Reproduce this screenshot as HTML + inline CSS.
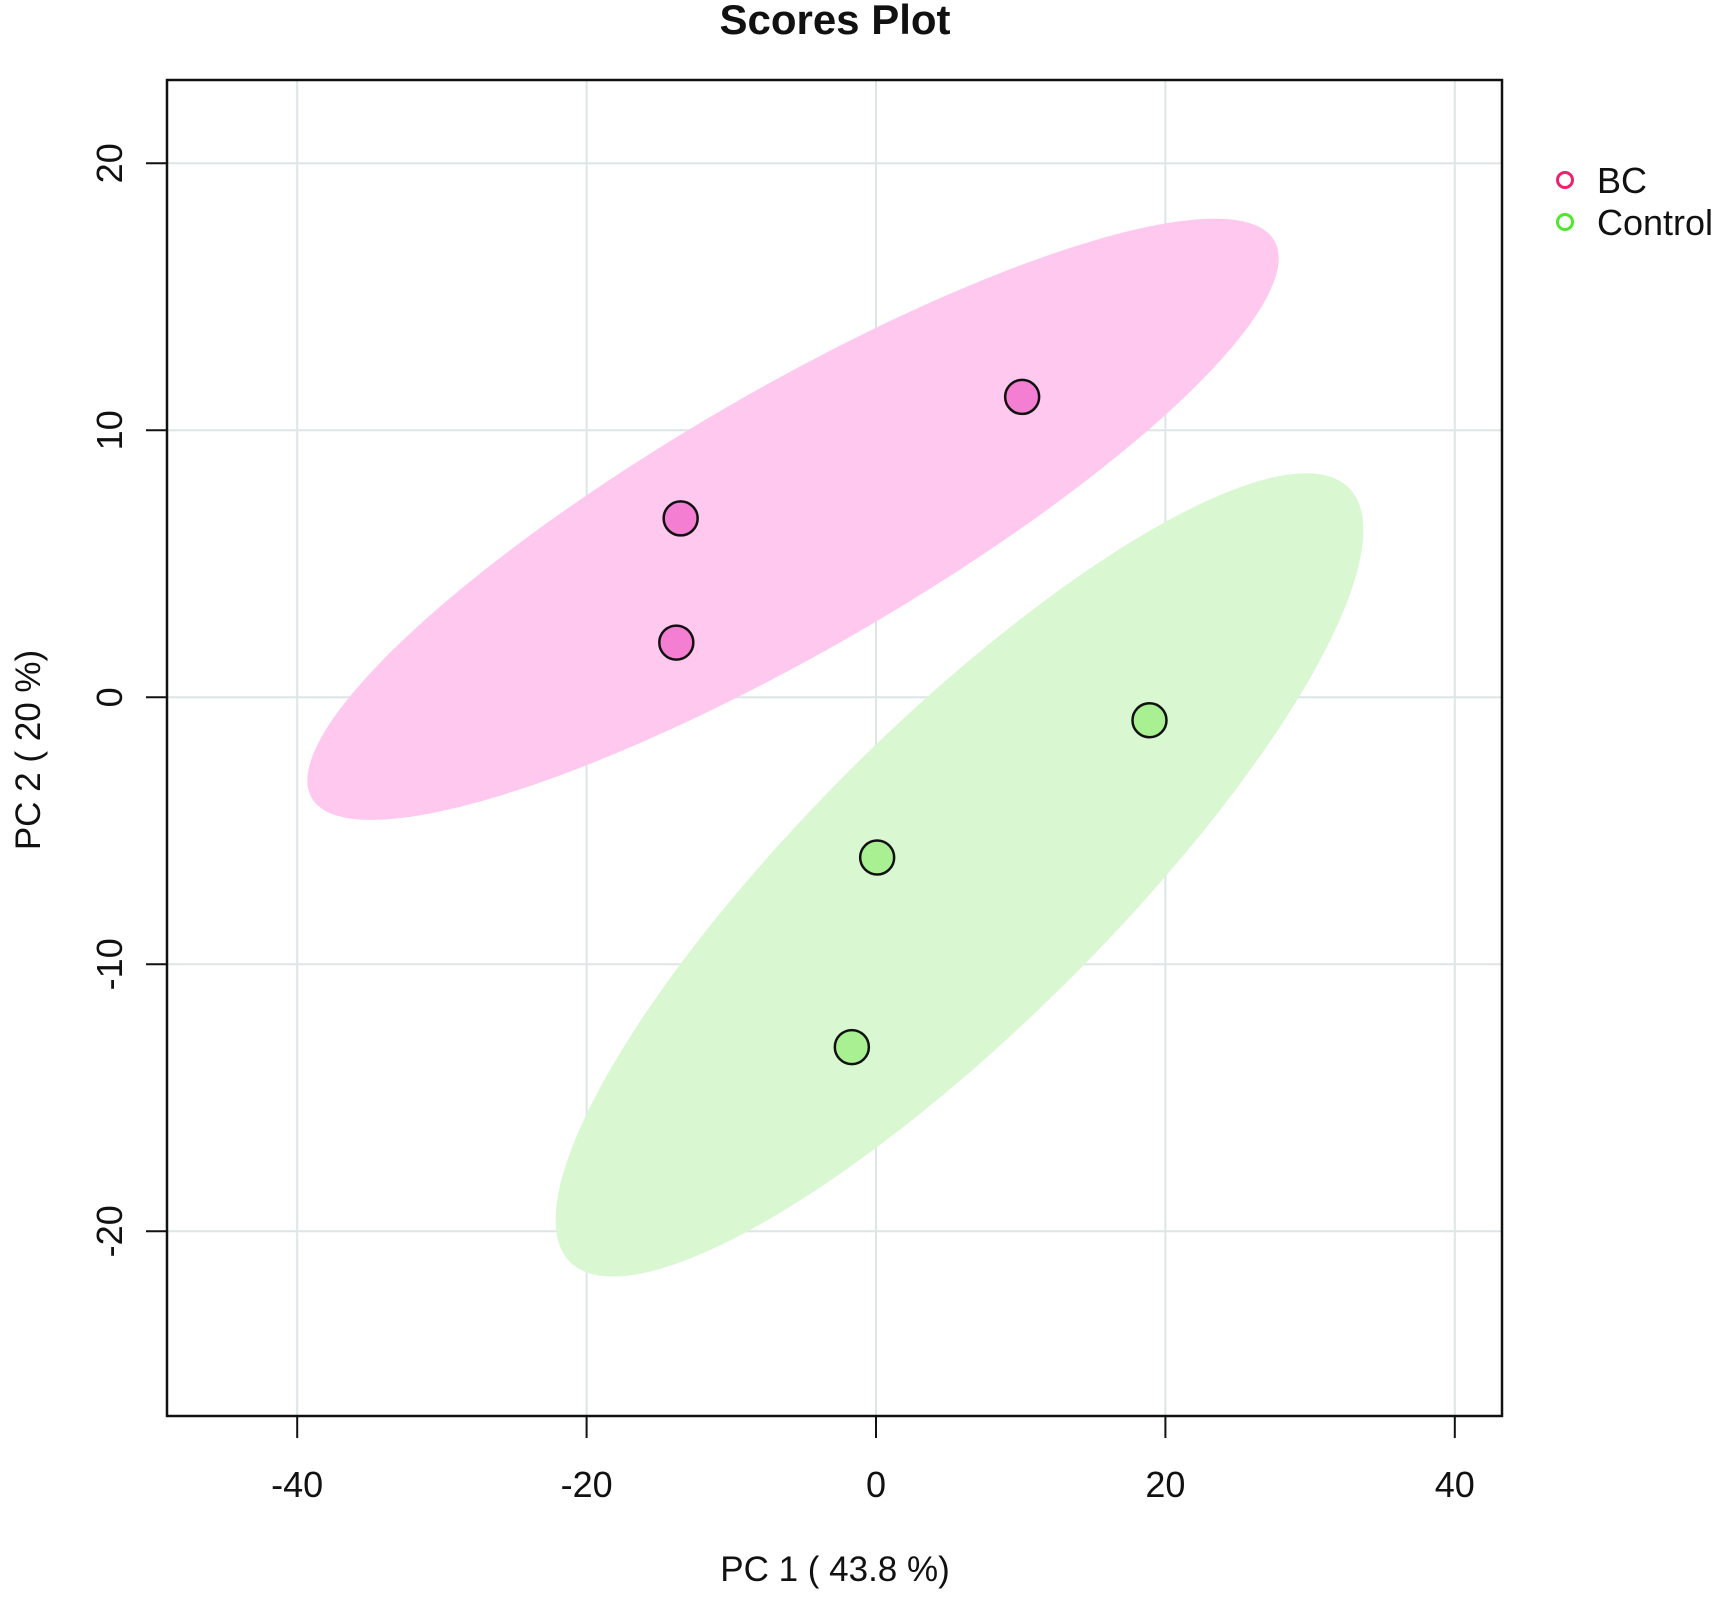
<!DOCTYPE html>
<html><head><meta charset="utf-8"><style>
html,body{margin:0;padding:0;background:#fff;}
svg{display:block;font-family:"Liberation Sans",sans-serif;}
</style></head><body>
<svg id="chart" width="1720" height="1600" viewBox="0 0 1720 1600" xmlns="http://www.w3.org/2000/svg">
<text x="835" y="34" text-anchor="middle" font-size="42" font-weight="bold" fill="#111">Scores Plot</text>
<g id="grid"></g>
<g id="ellipses"></g>
<g id="points"></g>
<rect x="167" y="80" width="1335" height="1336" fill="none" stroke="#111" stroke-width="2.5"/>
<g id="axes"></g>
<text x="835" y="1581" text-anchor="middle" font-size="35" fill="#111">PC 1 ( 43.8 %)</text>
<text transform="translate(40,750) rotate(-90)" text-anchor="middle" font-size="35" fill="#111">PC 2 ( 20 %)</text>
<g>
<g><circle cx="1565" cy="180" r="7.5" fill="none" stroke="#f0206e" stroke-width="3"/><text x="1597" y="193" font-size="36" fill="#111">BC</text></g>
<g><circle cx="1565" cy="222" r="7.5" fill="none" stroke="#4fe82c" stroke-width="3"/><text x="1597" y="235" font-size="36" fill="#111">Control</text></g>
</g>
</svg>
<script>
const xTicks = [-40, -20, 0, 20, 40];
const yTicks = [-20, -10, 0, 10, 20];
const bcX = [10.1, -13.5, -13.8];
const bcY = [11.25, 6.7, 2.05];
const ctrlX = [18.9, 0.08, -1.67];
const ctrlY = [-0.86, -6.0, -13.1];
const groupNames = ["BC", "Control"];

const NS = "http://www.w3.org/2000/svg";
const X0 = 876, XS = 289.4/20, Y0 = 697.3, YS = 267/10;
function sx(v){ return X0 + v*XS; }
function sy(v){ return Y0 - v*YS; }
function mk(tag, attrs, parent){ const e=document.createElementNS(NS,tag); for(const k in attrs) e.setAttribute(k,attrs[k]); parent.appendChild(e); return e; }

const grid = document.getElementById('grid');
const axes = document.getElementById('axes');
xTicks.forEach(t=>{
  const g = mk('line',{x1:sx(t),x2:sx(t),y1:80,y2:1416,stroke:'#dde6e6','stroke-width':2},grid);
  
  
  const tk = mk('line',{x1:sx(t),x2:sx(t),y1:1416,y2:1438,stroke:'#111','stroke-width':2},axes);
  
  
  const tx = mk('text',{x:sx(t),y:1497,'text-anchor':'middle','font-size':36,fill:'#111'},axes);
  tx.textContent = String(t);
  
  
});
yTicks.forEach(t=>{
  const g = mk('line',{x1:167,x2:1502,y1:sy(t),y2:sy(t),stroke:'#dde6e6','stroke-width':2},grid);
  
  
  const tk = mk('line',{x1:146,x2:167,y1:sy(t),y2:sy(t),stroke:'#111','stroke-width':2},axes);
  
  
  const tx = mk('text',{transform:`translate(122,${sy(t)}) rotate(-90)`,'text-anchor':'middle','font-size':36,fill:'#111'},axes);
  tx.textContent = String(t);
  
  
});

function ellipsePts(xs, ys){
  const n=xs.length, mx=xs.reduce((a,b)=>a+b)/n, my=ys.reduce((a,b)=>a+b)/n;
  let sxx=0,syy=0,sxy=0;
  for(let i=0;i<n;i++){ sxx+=(xs[i]-mx)**2; syy+=(ys[i]-my)**2; sxy+=(xs[i]-mx)*(ys[i]-my); }
  sxx/=n-1; syy/=n-1; sxy/=n-1;
  const k=Math.sqrt(5.991);
  const l11=Math.sqrt(sxx), l21=sxy/l11, l22=Math.sqrt(Math.max(syy-l21*l21,1e-9));
  const pts=[];
  for(let i=0;i<200;i++){ const a=i/200*2*Math.PI, c=Math.cos(a), s=Math.sin(a);
    pts.push(sx(mx+k*l11*c).toFixed(1)+','+sy(my+k*(l21*c+l22*s)).toFixed(1)); }
  return pts.join(' ');
}
const ell = document.getElementById('ellipses');
const e1 = mk('polygon',{points:ellipsePts(bcX,bcY),fill:'#ffc8ef'},ell);


const e2 = mk('polygon',{points:ellipsePts(ctrlX,ctrlY),fill:'#d9f8d2'},ell);



const pg = document.getElementById('points');
bcX.forEach((x,i)=>{
  const c = mk('circle',{cx:sx(x),cy:sy(bcY[i]),r:17,fill:'#f47fd2',stroke:'#111','stroke-width':2.5},pg);
  
  
});
ctrlX.forEach((x,i)=>{
  const c = mk('circle',{cx:sx(x),cy:sy(ctrlY[i]),r:17,fill:'#a8f092',stroke:'#111','stroke-width':2.5},pg);
  
  
});
</script>
</body></html>
